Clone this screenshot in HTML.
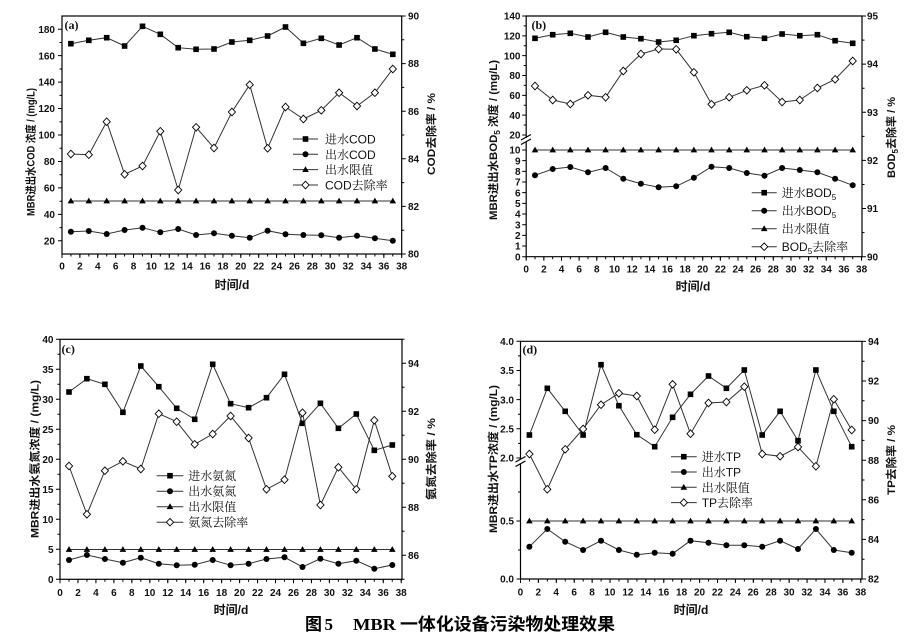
<!DOCTYPE html>
<html><head><meta charset="utf-8">
<style>
html,body{margin:0;padding:0;background:#fff;}
svg{display:block;}
.t{font:bold 10px "Liberation Sans",sans-serif;fill:#111;}
.lg{font:12px "Liberation Sans","Noto Serif CJK SC",serif;fill:#111;}
.at{font:bold 11px "Liberation Sans","Noto Sans CJK SC",sans-serif;fill:#111;}
.xt{font:bold 12px "Liberation Sans","Noto Sans CJK SC",sans-serif;fill:#111;}
.pl{font:bold 12px "Liberation Serif",serif;fill:#111;}
.ln{fill:none;stroke:#333;stroke-width:1;}
.s{marker-start:url(#S);marker-mid:url(#S);marker-end:url(#S);}
.c{marker-start:url(#C);marker-mid:url(#C);marker-end:url(#C);}
.r{marker-start:url(#T);marker-mid:url(#T);marker-end:url(#T);}
.d{marker-start:url(#D);marker-mid:url(#D);marker-end:url(#D);}
.ax{fill:none;stroke:#000;stroke-width:1.2;}
.tk{fill:none;stroke:#000;}
</style></head>
<body>
<svg width="919" height="638" viewBox="0 0 919 638" xmlns="http://www.w3.org/2000/svg">
<defs>
<marker id="S" viewBox="-5 -5 10 10" markerWidth="10" markerHeight="10" markerUnits="userSpaceOnUse" refX="0" refY="0" overflow="visible"><rect x="-2.8" y="-2.8" width="5.6" height="5.6" fill="#000"/></marker>
<marker id="C" viewBox="-5 -5 10 10" markerWidth="10" markerHeight="10" markerUnits="userSpaceOnUse" refX="0" refY="0" overflow="visible"><circle r="3" fill="#000"/></marker>
<marker id="T" viewBox="-5 -5 10 10" markerWidth="10" markerHeight="10" markerUnits="userSpaceOnUse" refX="0" refY="0" overflow="visible"><path d="M0,-3.4L3.3,2.4L-3.3,2.4Z" fill="#000"/></marker>
<marker id="D" viewBox="-5 -5 10 10" markerWidth="10" markerHeight="10" markerUnits="userSpaceOnUse" refX="0" refY="0" overflow="visible"><path d="M0,-3.8L3.6,0L0,3.8L-3.6,0Z" fill="#fff" stroke="#000" stroke-width="0.9"/></marker>
</defs>
<rect width="919" height="638" fill="#fff"/>

<!-- ================= PANEL A ================= -->
<rect class="ax" x="62" y="16" width="339.7" height="238"/>
<line class="tk" x1="60" y1="28.7" x2="60" y2="241.5" stroke-width="4" stroke-dasharray="1 25.45"/>
<line class="tk" x1="60.75" y1="42" x2="60.75" y2="228.5" stroke-width="2.5" stroke-dasharray="1 25.45"/>
<line class="tk" x1="403.7" y1="15.5" x2="403.7" y2="254.5" stroke-width="4" stroke-dasharray="1 46.6"/>
<line class="tk" x1="402.95" y1="39.3" x2="402.95" y2="231" stroke-width="2.5" stroke-dasharray="1 46.6"/>
<line class="tk" x1="61.5" y1="256" x2="402.5" y2="256" stroke-width="4" stroke-dasharray="1 16.88"/>
<line class="tk" x1="61.5" y1="255.25" x2="402.5" y2="255.25" stroke-width="2.5" stroke-dasharray="1 7.94"/>
<g class="t" text-anchor="end">
<text x="55" y="244.4">20</text><text x="55" y="218">40</text><text x="55" y="191.5">60</text><text x="55" y="165.1">80</text><text x="55" y="138.6">100</text><text x="55" y="112.2">120</text><text x="55" y="85.7">140</text><text x="55" y="59.3">160</text><text x="55" y="32.8">180</text>
</g>
<g class="t">
<text x="408" y="257.6">80</text><text x="408" y="210">82</text><text x="408" y="162.4">84</text><text x="408" y="114.8">86</text><text x="408" y="67.2">88</text><text x="408" y="19.6">90</text>
</g>
<g class="t" text-anchor="middle">
<text x="62" y="269.5">0</text><text x="79.9" y="269.5">2</text><text x="97.8" y="269.5">4</text><text x="115.6" y="269.5">6</text><text x="133.5" y="269.5">8</text><text x="151.4" y="269.5">10</text><text x="169.3" y="269.5">12</text><text x="187.2" y="269.5">14</text><text x="205" y="269.5">16</text><text x="222.9" y="269.5">18</text><text x="240.8" y="269.5">20</text><text x="258.7" y="269.5">22</text><text x="276.6" y="269.5">24</text><text x="294.4" y="269.5">26</text><text x="312.3" y="269.5">28</text><text x="330.2" y="269.5">30</text><text x="348.1" y="269.5">32</text><text x="366" y="269.5">34</text><text x="383.8" y="269.5">36</text><text x="401.7" y="269.5">38</text>
</g>
<text class="pl" x="64.5" y="29">(a)</text>
<text class="at" transform="translate(34.5,152) rotate(-90)" text-anchor="middle" textLength="128" lengthAdjust="spacingAndGlyphs">MBR进出水COD 浓度 / (mg/L)</text>
<text class="at" transform="translate(435,134) rotate(-90)" text-anchor="middle" textLength="82" lengthAdjust="spacingAndGlyphs">COD去除率 / %</text>
<text class="xt" x="232" y="289" text-anchor="middle">时间/d</text>

<polyline class="ln s" points="70.9,43.7 88.8,40.3 106.7,37.7 124.6,46 142.5,26.3 160.3,34.3 178.2,47.7 196.1,49.3 214,49 231.9,42 249.7,40.3 267.6,36 285.5,27 303.4,43.3 321.3,38.3 339.1,45 357,37.7 374.9,49 392.8,54.3"/>
<polyline class="ln c" points="70.9,231.7 88.8,231 106.7,234 124.6,230 142.5,227.7 160.3,232.3 178.2,229 196.1,235 214,233.3 231.9,235.7 249.7,237.7 267.6,230.7 285.5,234.3 303.4,235 321.3,235.3 339.1,237.7 357,235.7 374.9,238.3 392.8,240.7"/>
<polyline class="ln r" points="70.9,201 88.8,201 106.7,201 124.6,201 142.5,201 160.3,201 178.2,201 196.1,201 214,201 231.9,201 249.7,201 267.6,201 285.5,201 303.4,201 321.3,201 339.1,201 357,201 374.9,201 392.8,201"/>
<polyline class="ln d" points="70.9,154 88.8,154.7 106.7,121.7 124.6,174.3 142.5,166 160.3,131.3 178.2,190 196.1,127.3 214,148 231.9,112 249.7,84.7 267.6,148.3 285.5,107 303.4,119 321.3,110.3 339.1,92.7 357,106 374.9,92.7 392.8,69"/>
<!-- legend a -->
<g>
<line class="ln" x1="293" y1="139" x2="318" y2="139"/><rect x="302.7" y="136.2" width="5.6" height="5.6"/>
<line class="ln" x1="293" y1="154.3" x2="318" y2="154.3"/><circle cx="305.5" cy="154.3" r="3"/>
<line class="ln" x1="293" y1="169.6" x2="318" y2="169.6"/><path d="M305.5,166.2L308.8,172L302.2,172Z"/>
<line class="ln" x1="293" y1="185" x2="318" y2="185"/><path d="M305.5,181.2L309.1,185L305.5,188.8L301.9,185Z" fill="#fff" stroke="#000" stroke-width="0.9"/>
<text class="lg" x="325" y="143.5">进水COD</text>
<text class="lg" x="325" y="158.8">出水COD</text>
<text class="lg" x="325" y="174.1">出水限值</text>
<text class="lg" x="325" y="189.5">COD去除率</text>
</g>

<!-- ================= PANEL B ================= -->
<path class="ax" d="M526.2,138V16H862V256.7H526.2V142"/>
<path class="ax" d="M521,140L531,134.5M521,144.5L531,139" stroke-width="1"/>
<line class="tk" x1="524.2" y1="15.5" x2="524.2" y2="135.5" stroke-width="4" stroke-dasharray="1 18.83"/>
<line class="tk" x1="524.95" y1="25.4" x2="524.95" y2="125.6" stroke-width="2.5" stroke-dasharray="1 18.83"/>
<line class="tk" x1="524.2" y1="149.5" x2="524.2" y2="257.2" stroke-width="4" stroke-dasharray="1 9.67"/>
<line class="tk" x1="864" y1="15.5" x2="864" y2="257.2" stroke-width="4" stroke-dasharray="1 47.14"/>
<line class="tk" x1="863.25" y1="39.6" x2="863.25" y2="233.1" stroke-width="2.5" stroke-dasharray="1 47.14"/>
<line class="tk" x1="525.7" y1="258.7" x2="862.5" y2="258.7" stroke-width="4" stroke-dasharray="1 16.65"/>
<line class="tk" x1="525.7" y1="257.95" x2="862.5" y2="257.95" stroke-width="2.5" stroke-dasharray="1 7.825"/>
<g class="t" text-anchor="end">
<text x="520.5" y="19.6">140</text><text x="520.5" y="39.4">120</text><text x="520.5" y="59.3">100</text><text x="520.5" y="79.1">80</text><text x="520.5" y="98.9">60</text><text x="520.5" y="118.8">40</text><text x="520.5" y="138.6">20</text>
<text x="520.5" y="153.6">10</text><text x="520.5" y="164.3">9</text><text x="520.5" y="175">8</text><text x="520.5" y="185.6">7</text><text x="520.5" y="196.3">6</text><text x="520.5" y="207">5</text><text x="520.5" y="217.6">4</text><text x="520.5" y="228.3">3</text><text x="520.5" y="239">2</text><text x="520.5" y="249.6">1</text><text x="520.5" y="260.3">0</text>
</g>
<g class="t">
<text x="867" y="19.6">95</text><text x="867" y="67.7">94</text><text x="867" y="115.9">93</text><text x="867" y="164">92</text><text x="867" y="212.2">91</text><text x="867" y="260.3">90</text>
</g>
<g class="t" text-anchor="middle">
<text x="526.2" y="272.5">0</text><text x="543.9" y="272.5">2</text><text x="561.5" y="272.5">4</text><text x="579.2" y="272.5">6</text><text x="596.8" y="272.5">8</text><text x="614.5" y="272.5">10</text><text x="632.1" y="272.5">12</text><text x="649.8" y="272.5">14</text><text x="667.4" y="272.5">16</text><text x="685.1" y="272.5">18</text><text x="702.7" y="272.5">20</text><text x="720.4" y="272.5">22</text><text x="738" y="272.5">24</text><text x="755.7" y="272.5">26</text><text x="773.3" y="272.5">28</text><text x="791" y="272.5">30</text><text x="808.6" y="272.5">32</text><text x="826.3" y="272.5">34</text><text x="843.9" y="272.5">36</text><text x="861.6" y="272.5">38</text>
</g>
<text class="pl" x="531.5" y="29">(b)</text>
<text class="at" transform="translate(497,140) rotate(-90)" text-anchor="middle" textLength="160" lengthAdjust="spacingAndGlyphs">MBR进出水BOD<tspan font-size="8" dy="3">5</tspan><tspan dy="-3"> 浓度 / (mg/L)</tspan></text>
<text class="at" transform="translate(895,137.5) rotate(-90)" text-anchor="middle" textLength="81" lengthAdjust="spacingAndGlyphs">BOD<tspan font-size="8" dy="3">5</tspan><tspan dy="-3">去除率 / %</tspan></text>
<text class="xt" x="693" y="290.5" text-anchor="middle">时间/d</text>

<polyline class="ln s" points="535,38.3 552.7,34.7 570.3,33.3 588,37 605.6,32.3 623.3,37 640.9,38.7 658.6,42 676.2,40.3 693.9,35.7 711.5,33.7 729.2,32.3 746.8,36.7 764.5,38.3 782.1,34 799.8,35.7 817.4,34.7 835.1,40.7 852.7,43.3"/>
<polyline class="ln c" points="535,175.3 552.7,169 570.3,167 588,172.3 605.6,168 623.3,178.7 640.9,183.7 658.6,187.3 676.2,186.3 693.9,177.7 711.5,166.7 729.2,168 746.8,173 764.5,175.7 782.1,168 799.8,170 817.4,172.3 835.1,178.7 852.7,185.3"/>
<polyline class="ln r" points="535,150 552.7,150 570.3,150 588,150 605.6,150 623.3,150 640.9,150 658.6,150 676.2,150 693.9,150 711.5,150 729.2,150 746.8,150 764.5,150 782.1,150 799.8,150 817.4,150 835.1,150 852.7,150"/>
<polyline class="ln d" points="535,86 552.7,100 570.3,104 588,95.3 605.6,97.3 623.3,71 640.9,54 658.6,49 676.2,49.3 693.9,72.3 711.5,104.3 729.2,97.3 746.8,90.3 764.5,85.3 782.1,102 799.8,100 817.4,88 835.1,79.3 852.7,61"/>
<g>
<line class="ln" x1="751.7" y1="192.7" x2="776.7" y2="192.7"/><rect x="761.4" y="189.9" width="5.6" height="5.6"/>
<line class="ln" x1="751.7" y1="210.7" x2="776.7" y2="210.7"/><circle cx="764.2" cy="210.7" r="3"/>
<line class="ln" x1="751.7" y1="228.7" x2="776.7" y2="228.7"/><path d="M764.2,225.3L767.5,231.1L760.9,231.1Z"/>
<line class="ln" x1="751.7" y1="246.7" x2="776.7" y2="246.7"/><path d="M764.2,242.9L767.8,246.7L764.2,250.5L760.6,246.7Z" fill="#fff" stroke="#000" stroke-width="0.9"/>
<text class="lg" x="781.7" y="197.2">进水BOD<tspan font-size="8" dy="3">5</tspan></text>
<text class="lg" x="781.7" y="215.2">出水BOD<tspan font-size="8" dy="3">5</tspan></text>
<text class="lg" x="781.7" y="233.2">出水限值</text>
<text class="lg" x="781.7" y="251.2">BOD<tspan font-size="8" dy="3">5</tspan><tspan dy="-3">去除率</tspan></text>
</g>

<!-- ================= PANEL C ================= -->
<rect class="ax" x="60" y="339.3" width="342" height="240"/>
<line class="tk" x1="58" y1="338.8" x2="58" y2="579.8" stroke-width="4" stroke-dasharray="1 29"/>
<line class="tk" x1="58.75" y1="353.8" x2="58.75" y2="565" stroke-width="2.5" stroke-dasharray="1 29"/>
<line class="tk" x1="404" y1="362.8" x2="404" y2="556" stroke-width="4" stroke-dasharray="1 47"/>
<line class="tk" x1="403.25" y1="338.8" x2="403.25" y2="580" stroke-width="2.5" stroke-dasharray="1 47"/>
<line class="tk" x1="59.5" y1="581.3" x2="402.5" y2="581.3" stroke-width="4" stroke-dasharray="1 16.96"/>
<line class="tk" x1="59.5" y1="580.55" x2="402.5" y2="580.55" stroke-width="2.5" stroke-dasharray="1 7.98"/>
<g class="t" text-anchor="end">
<text x="53.5" y="342.9">40</text><text x="53.5" y="372.9">35</text><text x="53.5" y="402.9">30</text><text x="53.5" y="432.9">25</text><text x="53.5" y="462.9">20</text><text x="53.5" y="492.9">15</text><text x="53.5" y="522.9">10</text><text x="53.5" y="552.9">5</text><text x="53.5" y="582.9">0</text>
</g>
<g class="t">
<text x="408" y="366.9">94</text><text x="408" y="414.9">92</text><text x="408" y="462.9">90</text><text x="408" y="510.9">88</text><text x="408" y="558.9">86</text>
</g>
<g class="t" text-anchor="middle">
<text x="60" y="596">0</text><text x="78" y="596">2</text><text x="95.9" y="596">4</text><text x="113.9" y="596">6</text><text x="131.8" y="596">8</text><text x="149.8" y="596">10</text><text x="167.8" y="596">12</text><text x="185.7" y="596">14</text><text x="203.7" y="596">16</text><text x="221.6" y="596">18</text><text x="239.6" y="596">20</text><text x="257.6" y="596">22</text><text x="275.5" y="596">24</text><text x="293.5" y="596">26</text><text x="311.4" y="596">28</text><text x="329.4" y="596">30</text><text x="347.4" y="596">32</text><text x="365.3" y="596">34</text><text x="383.3" y="596">36</text><text x="401.2" y="596">38</text>
</g>
<text class="pl" x="61.5" y="353">(c)</text>
<text class="at" transform="translate(38.5,459) rotate(-90)" text-anchor="middle" textLength="158" lengthAdjust="spacingAndGlyphs">MBR进出水氨氮浓度 / (mg/L)</text>
<text class="at" transform="translate(435,459) rotate(-90)" text-anchor="middle" textLength="82" lengthAdjust="spacingAndGlyphs">氨氮去除率 / %</text>
<text class="xt" x="231" y="614" text-anchor="middle">时间/d</text>

<polyline class="ln s" points="69,392 86.9,378.7 104.9,384.3 122.9,412.3 140.8,366 158.8,386.7 176.7,408.3 194.7,419.3 212.7,364.3 230.6,403.7 248.6,407.7 266.5,397.7 284.5,374.3 302.5,423.3 320.4,403.3 338.4,428.3 356.3,414 374.3,450.3 392.3,445"/>
<polyline class="ln c" points="69,560 86.9,555 104.9,559 122.9,562.7 140.8,557.7 158.8,563.7 176.7,565.3 194.7,564.7 212.7,560 230.6,565.3 248.6,563.7 266.5,559 284.5,557.3 302.5,567 320.4,558.7 338.4,563.7 356.3,560.7 374.3,568.7 392.3,565"/>
<polyline class="ln r" points="69,549.5 86.9,549.5 104.9,549.5 122.9,549.5 140.8,549.5 158.8,549.5 176.7,549.5 194.7,549.5 212.7,549.5 230.6,549.5 248.6,549.5 266.5,549.5 284.5,549.5 302.5,549.5 320.4,549.5 338.4,549.5 356.3,549.5 374.3,549.5 392.3,549.5"/>
<polyline class="ln d" points="69,466 86.9,514.3 104.9,470.7 122.9,461.3 140.8,469 158.8,413.7 176.7,421.7 194.7,444.3 212.7,434 230.6,416 248.6,438 266.5,489.3 284.5,479.7 302.5,412.7 320.4,505 338.4,467.3 356.3,489.3 374.3,420.3 392.3,476.3"/>
<g>
<line class="ln" x1="156.7" y1="475.7" x2="183.3" y2="475.7"/><rect x="167.2" y="472.9" width="5.6" height="5.6"/>
<line class="ln" x1="156.7" y1="491.2" x2="183.3" y2="491.2"/><circle cx="170" cy="491.2" r="3"/>
<line class="ln" x1="156.7" y1="506.7" x2="183.3" y2="506.7"/><path d="M170,503.3L173.3,509.1L166.7,509.1Z"/>
<line class="ln" x1="156.7" y1="522.2" x2="183.3" y2="522.2"/><path d="M170,518.4L173.6,522.2L170,526L166.4,522.2Z" fill="#fff" stroke="#000" stroke-width="0.9"/>
<text class="lg" x="188.3" y="480.2">进水氨氮</text>
<text class="lg" x="188.3" y="495.7">出水氨氮</text>
<text class="lg" x="188.3" y="511.2">出水限值</text>
<text class="lg" x="188.3" y="526.7">氨氮去除率</text>
</g>

<!-- ================= PANEL D ================= -->
<path class="ax" d="M520.5,459.5V341.3H862V579H520.5V463.5"/>
<path class="ax" d="M515.5,462L525.5,456.5M515.5,466.5L525.5,461" stroke-width="1"/>
<line class="tk" x1="518.5" y1="340.8" x2="518.5" y2="458.5" stroke-width="4" stroke-dasharray="1 28.17"/>
<line class="tk" x1="519.25" y1="355.4" x2="519.25" y2="444" stroke-width="2.5" stroke-dasharray="1 28.17"/>
<line class="tk" x1="518.5" y1="520.5" x2="518.5" y2="579.5" stroke-width="4" stroke-dasharray="1 57"/>
<line class="tk" x1="519.25" y1="491.5" x2="519.25" y2="551" stroke-width="2.5" stroke-dasharray="1 57"/>
<line class="tk" x1="864" y1="340.9" x2="864" y2="579.5" stroke-width="4" stroke-dasharray="1 38.6"/>
<line class="tk" x1="863.25" y1="360.7" x2="863.25" y2="560" stroke-width="2.5" stroke-dasharray="1 38.6"/>
<line class="tk" x1="520" y1="581" x2="861.5" y2="581" stroke-width="4" stroke-dasharray="1 16.91"/>
<line class="tk" x1="520" y1="580.25" x2="861.5" y2="580.25" stroke-width="2.5" stroke-dasharray="1 7.955"/>
<g class="t" text-anchor="end">
<text x="514" y="344.9">4.0</text><text x="514" y="374.1">3.5</text><text x="514" y="403.3">3.0</text><text x="514" y="432.4">2.5</text><text x="514" y="461.6">2.0</text><text x="514" y="524.6">0.5</text><text x="514" y="582.6">0.0</text>
</g>
<g class="t">
<text x="868" y="345">94</text><text x="868" y="384.6">92</text><text x="868" y="424.2">90</text><text x="868" y="463.8">88</text><text x="868" y="503.4">86</text><text x="868" y="543">84</text><text x="868" y="582.6">82</text>
</g>
<g class="t" text-anchor="middle">
<text x="520.4" y="595.5">0</text><text x="538.3" y="595.5">2</text><text x="556.2" y="595.5">4</text><text x="574.1" y="595.5">6</text><text x="592" y="595.5">8</text><text x="609.9" y="595.5">10</text><text x="627.9" y="595.5">12</text><text x="645.8" y="595.5">14</text><text x="663.7" y="595.5">16</text><text x="681.6" y="595.5">18</text><text x="699.5" y="595.5">20</text><text x="717.4" y="595.5">22</text><text x="735.3" y="595.5">24</text><text x="753.2" y="595.5">26</text><text x="771.1" y="595.5">28</text><text x="789" y="595.5">30</text><text x="806.9" y="595.5">32</text><text x="824.9" y="595.5">34</text><text x="842.8" y="595.5">36</text><text x="860.7" y="595.5">38</text>
</g>
<text class="pl" x="522.5" y="353.5">(d)</text>
<text class="at" transform="translate(497,459) rotate(-90)" text-anchor="middle" textLength="148" lengthAdjust="spacingAndGlyphs">MBR进出水TP浓度 / (mg/L)</text>
<text class="at" transform="translate(895,460) rotate(-90)" text-anchor="middle" textLength="70" lengthAdjust="spacingAndGlyphs">TP去除率 / %</text>
<text class="xt" x="691" y="614" text-anchor="middle">时间/d</text>

<polyline class="ln s" points="529.4,435 547.3,388.3 565.2,411.3 583.1,435 601,364.7 618.9,405.7 636.8,434.7 654.7,446.7 672.6,417.3 690.5,394.3 708.5,376 726.4,388.3 744.3,370 762.2,435 780.1,411.3 798,440.7 815.9,370 833.8,411.3 851.7,446.7"/>
<polyline class="ln c" points="529.4,546.7 547.3,529 565.2,541.7 583.1,550 601,540.7 618.9,550 636.8,554.7 654.7,552.7 672.6,553.7 690.5,540.7 708.5,542.7 726.4,545.3 744.3,545.3 762.2,546.7 780.1,540.7 798,549 815.9,529 833.8,550 851.7,552.7"/>
<polyline class="ln r" points="529.4,521 547.3,521 565.2,521 583.1,521 601,521 618.9,521 636.8,521 654.7,521 672.6,521 690.5,521 708.5,521 726.4,521 744.3,521 762.2,521 780.1,521 798,521 815.9,521 833.8,521 851.7,521"/>
<polyline class="ln d" points="529.4,454 547.3,489.3 565.2,449.3 583.1,429 601,404.7 618.9,393.3 636.8,396 654.7,429.7 672.6,384.3 690.5,433.7 708.5,403 726.4,402 744.3,386.7 762.2,454 780.1,456.3 798,447 815.9,466.3 833.8,399.3 851.7,430"/>
<g>
<line class="ln" x1="671" y1="456.7" x2="696.7" y2="456.7"/><rect x="681" y="453.9" width="5.6" height="5.6"/>
<line class="ln" x1="671" y1="472" x2="696.7" y2="472"/><circle cx="683.8" cy="472" r="3"/>
<line class="ln" x1="671" y1="487.3" x2="696.7" y2="487.3"/><path d="M683.8,483.9L687.1,489.7L680.5,489.7Z"/>
<line class="ln" x1="671" y1="502.6" x2="696.7" y2="502.6"/><path d="M683.8,498.8L687.4,502.6L683.8,506.4L680.2,502.6Z" fill="#fff" stroke="#000" stroke-width="0.9"/>
<text class="lg" x="701.7" y="461.2">进水TP</text>
<text class="lg" x="701.7" y="476.5">出水TP</text>
<text class="lg" x="701.7" y="491.8">出水限值</text>
<text class="lg" x="701.7" y="507.1">TP去除率</text>
</g>

<!-- ================= CAPTION ================= -->
<g font-weight="bold" fill="#000">
<text x="305" y="630" font-size="17" font-family="'Liberation Serif','Noto Sans CJK SC',sans-serif">图</text>
<text x="324.5" y="630" font-size="17" font-family="'Liberation Serif',serif">5</text>
<text x="353" y="630" font-size="17" font-family="'Liberation Serif',serif" textLength="43" lengthAdjust="spacingAndGlyphs">MBR</text>
<text x="400" y="630" font-size="17" font-family="'Liberation Serif','Noto Sans CJK SC',sans-serif" textLength="215" lengthAdjust="spacingAndGlyphs">一体化设备污染物处理效果</text>
</g>
</svg>
</body></html>
